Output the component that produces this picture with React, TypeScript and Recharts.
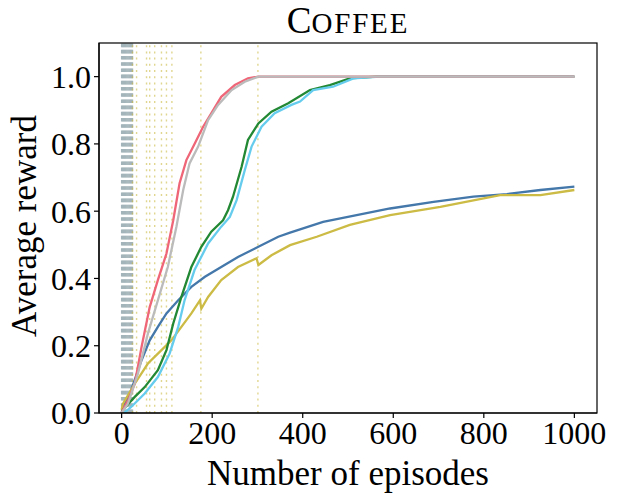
import React from 'react';
import { LineChart, Line, XAxis, YAxis, ReferenceLine } from 'recharts';

// values: [episode, average reward]
const redPts = [
  [0, 0], [3, 0.01], [15, 0.04], [29, 0.087], [44, 0.196], [62, 0.315], [80, 0.395], [99, 0.474],
  [114, 0.573], [128, 0.683], [143, 0.752], [161, 0.8], [180, 0.851], [198, 0.891],
  [220, 0.94], [250, 0.975], [279, 0.995], [302, 1.0], [1000, 1.0],
];
const greyPts = [
  [0, 0], [14, 0.028], [36, 0.117], [58, 0.236], [80, 0.335], [102, 0.434], [121, 0.554],
  [136, 0.663], [150, 0.742], [169, 0.792], [191, 0.871], [213, 0.916], [243, 0.96],
  [272, 0.985], [302, 1.0], [1000, 1.0],
];
const greenPts = [
  [0, 0], [3, 0.01], [29, 0.048], [51, 0.077], [80, 0.127], [99, 0.187], [114, 0.266],
  [132, 0.345], [154, 0.434], [176, 0.494], [198, 0.539], [224, 0.573], [235, 0.603],
  [246, 0.643], [265, 0.732], [279, 0.812], [302, 0.861], [331, 0.896], [368, 0.921],
  [416, 0.96], [460, 0.975], [504, 0.995], [563, 1.0], [1000, 1.0],
];
const cyanPts = [
  [0, 0], [10, 0.005], [21, 0.018], [51, 0.058], [80, 0.107], [106, 0.177], [125, 0.256],
  [139, 0.335], [161, 0.425], [191, 0.504], [220, 0.554], [239, 0.583], [254, 0.633],
  [272, 0.722], [287, 0.792], [309, 0.851], [338, 0.891], [375, 0.916], [394, 0.926],
  [423, 0.96], [467, 0.97], [512, 0.995], [570, 1.0], [1000, 1.0],
];
const bluePts = [
  [0, 0], [3, 0.015], [21, 0.068], [44, 0.157], [62, 0.216], [80, 0.256], [99, 0.296],
  [125, 0.335], [154, 0.375], [184, 0.405], [220, 0.434], [257, 0.464], [302, 0.494],
  [346, 0.524], [372, 0.536], [445, 0.568], [519, 0.588], [593, 0.608], [689, 0.628],
  [777, 0.643], [851, 0.651], [925, 0.663], [1000, 0.673],
];
const yellowPts = [
  [0, 0.01], [3, 0.028], [29, 0.087], [58, 0.147], [88, 0.187], [110, 0.216], [132, 0.256],
  [154, 0.296], [173, 0.335], [176, 0.31], [191, 0.345], [220, 0.395], [257, 0.434],
  [298, 0.46], [302, 0.44], [331, 0.469], [372, 0.499], [431, 0.524], [504, 0.559],
  [593, 0.588], [704, 0.613], [836, 0.648], [925, 0.648], [1000, 0.663],
];

const greyMarks = [0, 2, 4, 6, 8, 10, 12, 14, 16, 18, 20, 22, 24];
const yellowMarks = [24, 33, 55, 62, 73, 88, 99, 111, 175, 301];

const xTicks = [0, 200, 400, 600, 800, 1000];
const yTicks = [0, 0.2, 0.4, 0.6, 0.8, 1.0];

const toRows = (pts: number[][]) => pts.map(([x, y]) => ({ x, y }));

const series = [
  { name: 'blue', color: '#4477aa', pts: bluePts },
  { name: 'yellow', color: '#ccbb44', pts: yellowPts },
  { name: 'green', color: '#228833', pts: greenPts },
  { name: 'cyan', color: '#66ccee', pts: cyanPts },
  { name: 'red', color: '#ee6677', pts: redPts },
  { name: 'grey', color: '#bbbbbb', pts: greyPts },
];

const font = '"Liberation Serif", "DejaVu Serif", serif';
const tickStyle = { fontFamily: font, fontSize: 32, fill: '#000' };

// plot box inside the chart (margins + axis sizes below)
const box = { left: 91, top: 35, width: 498, height: 370 };

export default function App() {
  return (
    <div style={{ position: 'relative', width: 609, height: 494 }}>
      <LineChart width={609} height={494} margin={{ top: box.top, right: 20, left: 0, bottom: 0 }}>
        <XAxis
          type="number"
          dataKey="x"
          domain={[-50, 1050]}
          ticks={xTicks}
          tickSize={5}
          tickMargin={3}
          height={89}
          tick={tickStyle}
          stroke="#000"
          strokeWidth={1.2}
          allowDataOverflow
        />
        <YAxis
          type="number"
          domain={[0, 1.1]}
          ticks={yTicks}
          tickFormatter={(v: number) => v.toFixed(1)}
          tickSize={5}
          tickMargin={3}
          width={box.left}
          tick={tickStyle}
          stroke="#000"
          strokeWidth={1.2}
          allowDataOverflow
        />
        {greyMarks.map((m) => (
          <ReferenceLine key={`g${m}`} x={m} stroke="#a4b5ba" strokeWidth={1.4} strokeDasharray="3.6 2.6" />
        ))}
        {yellowMarks.map((m) => (
          <ReferenceLine key={`y${m}`} x={m} stroke="#ccbb44" strokeOpacity={0.6} strokeWidth={1.4} strokeDasharray="2 4.2" />
        ))}
        {series.map((s) => (
          <Line
            key={s.name}
            data={toRows(s.pts)}
            dataKey="y"
            type="linear"
            stroke={s.color}
            strokeWidth={2.3}
            dot={false}
            isAnimationActive={false}
          />
        ))}
      </LineChart>
      <svg
        width={609}
        height={494}
        style={{ position: 'absolute', left: 0, top: 0, pointerEvents: 'none', overflow: 'visible' }}
      >
        <rect x={box.left} y={box.top} width={box.width} height={box.height} fill="none" stroke="#000" strokeWidth={1.2} />
        <text x={340} y={25} textAnchor="middle" fontFamily={font}>
          <tspan fontSize={37}>C</tspan>
          <tspan fontSize={29} letterSpacing={1.8}>OFFEE</tspan>
        </text>
        <text x={340} y={477} textAnchor="middle" fontFamily={font} fontSize={35}>
          Number of episodes
        </text>
        <text
          x={0}
          y={0}
          transform="translate(28 218) rotate(-90)"
          textAnchor="middle"
          fontFamily={font}
          fontSize={35}
        >
          Average reward
        </text>
      </svg>
    </div>
  );
}
